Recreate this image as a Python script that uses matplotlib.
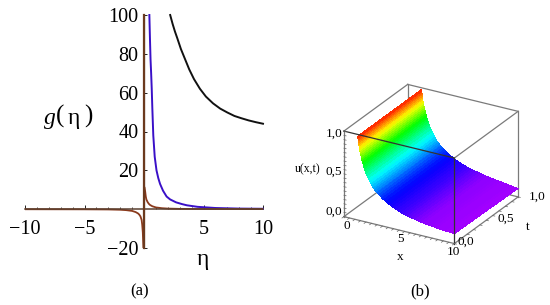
import matplotlib
matplotlib.use('Agg')
import matplotlib.pyplot as plt
import numpy as np

plt.rcParams['font.family'] = ['Liberation Serif', 'DejaVu Serif']

W, H = 550, 305

# panel (a), values
eta_black = [2.2, 2.4, 2.6, 2.8, 3.1, 3.4, 3.8, 4.2, 4.7, 5.2, 5.8, 6.4, 7.0, 7.6, 8.2, 8.8, 9.4, 10]
g_black = [100, 95.5, 91.5, 88, 82.5, 78, 72, 67, 62, 58, 54.5, 51.8, 49.8, 48, 46.8, 45.7, 44.8, 44]
eta_blue = [0.45, 0.5, 0.55, 0.6, 0.65, 0.7, 0.78, 0.9, 1.05, 1.2, 1.35, 1.6, 1.9, 2.2, 2.7, 3.2, 3.6, 4.5, 6, 8, 10]
g_blue = [100, 88, 77, 70, 62, 52, 38, 27, 20, 16, 13, 9.5, 6.5, 5, 3.5, 2.6, 2, 1.2, 0.6, 0.3, 0.2]
eta_brown_pos = [0.05, 0.1, 0.15, 0.2, 0.3, 0.4, 0.5, 0.7, 1, 1.5, 2, 3, 5, 10]
g_brown_pos = [11, 9, 6.5, 5, 3.7, 2.8, 2.2, 1.5, 0.9, 0.5, 0.3, 0.15, 0.08, 0.04]
eta_brown_neg = [-10, -5, -3, -2, -1.5, -1, -0.7, -0.5, -0.4, -0.3, -0.2, -0.15, -0.1, -0.05]
g_brown_neg = [-0.04, -0.08, -0.15, -0.3, -0.5, -0.9, -1.5, -2.2, -2.8, -3.7, -5.5, -8, -12, -20]
asym_x = [0, 0]
asym_y = [-20, 100]
xticks_a = [-10, -5, 5, 10]
yticks_a = [-20, 20, 40, 60, 80, 100]

# panel (b), curve along x at t=0 and t=1
x_surf = [1.25, 1.27, 1.29, 1.31, 1.33, 1.35, 1.37, 1.4, 1.43, 1.46, 1.5, 1.54, 1.58, 1.62, 1.66, 1.7, 1.75, 1.8,
          1.85, 1.9, 1.95, 2.0, 2.1, 2.2, 2.3, 2.4, 2.5, 2.6, 2.7, 2.8, 2.9, 3.0, 3.15, 3.3, 3.45, 3.6, 3.8, 4.0,
          4.2, 4.4, 4.6, 4.8, 5.0, 5.2, 5.4, 5.6, 5.8, 6.0, 6.25, 6.5, 6.75, 7.0, 7.25, 7.5, 7.75, 8.0, 8.25,
          8.5, 8.75, 9.0, 9.25, 9.5, 9.75, 10]
u_front = [0.98, 0.96, 0.94, 0.925, 0.905, 0.885, 0.87, 0.84, 0.82, 0.80, 0.78, 0.76, 0.74, 0.72, 0.70, 0.68, 0.66,
           0.64, 0.62, 0.60, 0.585, 0.57, 0.545, 0.52, 0.495, 0.47, 0.45, 0.43, 0.415, 0.40, 0.385, 0.37, 0.355,
           0.34, 0.325, 0.31, 0.295, 0.28, 0.265, 0.25, 0.24, 0.23, 0.22, 0.21, 0.20, 0.195, 0.187, 0.18, 0.175,
           0.17, 0.162, 0.155, 0.15, 0.145, 0.142, 0.14, 0.135, 0.13, 0.127, 0.125, 0.122, 0.12, 0.117, 0.115]
u_back = [0.98, 0.96, 0.94, 0.925, 0.905, 0.885, 0.87, 0.84, 0.82, 0.80, 0.78, 0.76, 0.74, 0.72, 0.70, 0.68, 0.66,
          0.64, 0.62, 0.60, 0.585, 0.57, 0.545, 0.52, 0.495, 0.47, 0.45, 0.43, 0.415, 0.40, 0.385, 0.37, 0.355,
          0.34, 0.325, 0.31, 0.295, 0.28, 0.265, 0.25, 0.24, 0.23, 0.22, 0.21, 0.20, 0.195, 0.187, 0.18, 0.175,
          0.17, 0.162, 0.155, 0.15, 0.145, 0.14, 0.135, 0.13, 0.125, 0.12, 0.115, 0.11, 0.105, 0.102, 0.10]
t_surf = [0, 1]
# colour stops of the surface, height to hue
u_stops = [0.10, 0.15, 0.20, 0.30, 0.50, 0.70, 0.85, 1.00]
hue_stops = [0.79, 0.77, 0.72, 0.667, 0.50, 0.33, 0.167, 0.0]


def px_text(x, y, s, **kw):
    kw.setdefault('ha', 'center')
    kw.setdefault('va', 'center')
    return fig.text(x / W, 1 - y / H, s, **kw)


fig = plt.figure(figsize=(W / 100, H / 100), dpi=100)

# (a)
ax = fig.add_axes([25 / W, 1 - 248 / H, 238 / W, 233 / H])
ax.set_xlim(-10, 10)
ax.set_ylim(-20, 100)
ax.plot(eta_black, g_black, color='#111111', lw=1.4, clip_on=False)
ax.plot(eta_blue, g_blue, color='#3a10c8', lw=1.4, clip_on=False)
ax.plot(asym_x, asym_y, color='#6b3a1e', lw=1.6, clip_on=False, zorder=4)
ax.plot(eta_brown_pos, g_brown_pos, color='#8a3a1c', lw=1.3)
ax.plot(eta_brown_neg, g_brown_neg, color='#8a3a1c', lw=1.3)
ax.spines['top'].set_visible(False)
ax.spines['right'].set_visible(False)
ax.spines['left'].set_position(('data', 0))
ax.spines['bottom'].set_position(('data', 0))
ax.spines['bottom'].set_color('#5a4030')
ax.spines['bottom'].set_linewidth(1.1)
ax.patch.set_alpha(0)
ax.set_xticks(xticks_a)
ax.set_yticks(yticks_a)
ax.set_xticks(range(-10, 11), minor=True)
ax.tick_params(axis='x', which='major', direction='in', length=3, width=0.6, labelsize=14.5, pad=8)
ax.tick_params(axis='x', which='minor', direction='in', length=1.5, width=0.5)
ax.tick_params(axis='y', which='major', direction='in', length=2, width=0.6, labelsize=14.5, pad=4)
ax.set_xticklabels(['\u221210', '\u22125', '5', '10'])
ax.set_yticklabels(['\u221220', '20', '40', '60', '80', '100'])
px_text(50, 118, 'g', style='italic', fontsize=17)
px_text(60, 116, '(', fontsize=18)
px_text(74, 118, '\u03b7', fontsize=17)
px_text(88, 116, ')', fontsize=18)
px_text(203, 259, '\u03b7', fontsize=17)
px_text(140, 291, '(a)', fontsize=12)

# (b)
side = 260
cx, cy = 427.5, 167.5
ax3 = fig.add_axes([(cx - side / 2) / W, 1 - (cy + side / 2) / H, side / W, side / H],
                   projection='3d', computed_zorder=False)
ax3.set_proj_type('ortho')
ax3.view_init(elev=25, azim=-60)
ax3.set_box_aspect((1, 1, 0.74), zoom=0.76)
ax3.set_xlim3d(0, 10, view_margin=0)
ax3.set_ylim3d(0, 1, view_margin=0)
ax3.set_zlim3d(0, 1, view_margin=0)
ax3.set_axis_off()
ax3.patch.set_alpha(0)

box = '#7a7a7a'
# edges behind the surface
back_edges = [([0, 10], [1, 1], [0, 0]), ([0, 0], [0, 1], [0, 0]), ([0, 0], [1, 1], [0, 1]),
              ([0, 10], [1, 1], [1, 1]), ([0, 0], [0, 1], [1, 1]), ([10, 10], [1, 1], [0, 1]),
              ([10, 10], [0, 1], [1, 1]), ([0, 0], [0, 0], [0, 1]), ([0, 10], [0, 0], [0, 0]),
              ([10, 10], [0, 1], [0, 0])]
for ex, ey, ez in back_edges:
    ax3.plot(ex, ey, ez, color=box, lw=0.9, zorder=1)

X, T = np.meshgrid(x_surf, t_surf)
U = np.array([u_front, u_back])
hue = np.interp(U, u_stops, hue_stops)
colors = plt.get_cmap('hsv')(hue)
colors = 0.5 * (colors[:, :-1] + colors[:, 1:])
ax3.plot_surface(X, T, U, facecolors=colors[:-1], rstride=1, cstride=1, shade=False,
                 linewidth=0, antialiased=False, zorder=2)

# edges drawn over the surface
ax3.plot([0, 10], [0, 0], [1, 1], color='#333333', lw=0.9, zorder=3)
ax3.plot([10, 10], [0, 0], [0, 1], color='#333333', lw=0.9, zorder=3)

# small tick marks
for z in np.arange(0, 1.01, 0.05):
    ax3.plot([0, 0.2], [0, 0], [z, z], color='#666666', lw=0.5, zorder=3)
for x in np.arange(0, 10.01, 0.5):
    ax3.plot([x, x], [0, -0.03], [0, 0], color='#666666', lw=0.5, zorder=3)
for t in np.arange(0, 1.01, 0.1):
    ax3.plot([10, 10.2], [t, t], [0, 0], color='#666666', lw=0.5, zorder=3)

fs = 9.5
px_text(334, 134, '1,0', fontsize=fs)
px_text(334, 172, '0,5', fontsize=fs)
px_text(334, 212, '0,0', fontsize=fs)
px_text(308, 169, 'u(x,t)', fontsize=8.5)
px_text(347, 226, '0', fontsize=fs)
px_text(400, 239, '5', fontsize=fs)
px_text(453, 252, '10', fontsize=fs)
px_text(400, 257, 'x', fontsize=fs)
px_text(466, 242, '0,0', fontsize=fs)
px_text(506, 219, '0,5', fontsize=fs)
px_text(537, 197, '1,0', fontsize=fs)
px_text(528, 227, 't', fontsize=fs)
px_text(420, 291, '(b)', fontsize=12)

fig.savefig('out.png', dpi=100)
